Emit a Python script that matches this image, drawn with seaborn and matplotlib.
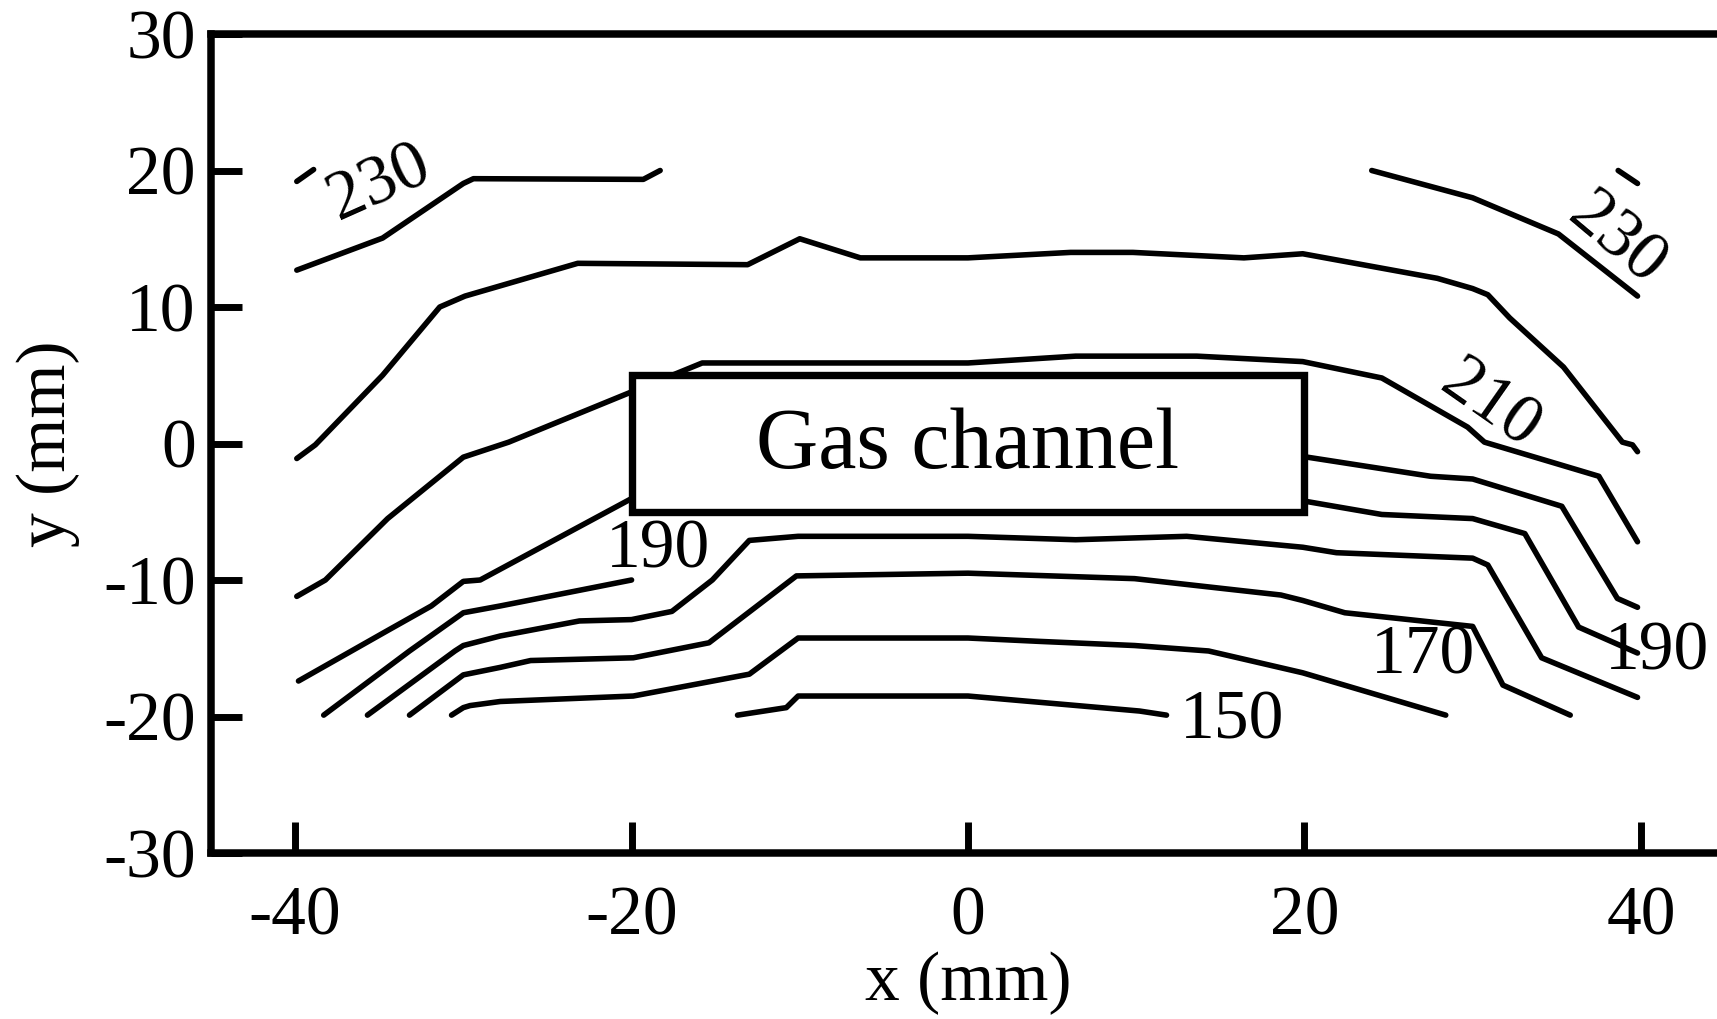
import matplotlib
matplotlib.use("Agg")
import matplotlib.pyplot as plt
from matplotlib.patches import Rectangle
import seaborn as sns

# ---------------- data ----------------
x_ticks = [-40, -20, 0, 20, 40]
y_ticks = [-30, -20, -10, 0, 10, 20, 30]
x_tick_labels = ["-40", "-20", "0", "20", "40"]
y_tick_labels = ["-30", "-20", "-10", "0", "10", "20", "30"]

# contour polylines (x in mm, y in mm)
dash_left_x = [-39.9, -38.9]
dash_left_y = [19.2, 20.07]

line_top_left_x = [-39.9, -34.8, -30.0, -29.4, -19.3, -18.3]
line_top_left_y = [12.7, 15.05, 19.05, 19.4, 19.35, 20.0]

line_top_right_x = [24.0, 30.0, 35.1, 39.8]
line_top_right_y = [20.0, 18.0, 15.35, 10.8]

dash_right_x = [38.65, 39.8]
dash_right_y = [20.0, 19.05]

line_220_x = [-39.9, -38.8, -34.8, -31.4, -29.9, -23.2, -13.1, -10.0, -6.4, 0.0,
              6.1, 9.8, 16.4, 19.9, 27.9, 30.0, 30.9, 32.2, 35.4, 38.9, 39.5, 39.8]
line_220_y = [-1.1, -0.1, 5.0, 10.0, 10.8, 13.2, 13.1, 15.0, 13.6, 13.6,
              14.0, 14.0, 13.6, 13.9, 12.1, 11.35, 10.9, 9.2, 5.6, 0.1, -0.1, -0.6]

line_210_x = [-39.9, -38.2, -34.5, -30.0, -27.3, -15.8, 0.0, 6.4, 13.6, 19.9,
              24.6, 29.7, 30.7, 37.5, 39.8]
line_210_y = [-11.2, -10.0, -5.5, -1.0, 0.1, 5.9, 5.9, 6.4, 6.4, 6.0,
              4.8, 1.2, 0.1, -2.4, -7.2]

line_200_left_x = [-39.8, -34.5, -31.9, -30.0, -29.0, -20.1, -18.0]
line_200_left_y = [-17.4, -13.7, -11.9, -10.1, -10.0, -4.1, -3.3]

line_200_right_x = [19.0, 19.9, 27.5, 30.0, 35.3, 38.6, 39.8]
line_200_right_y = [-0.9, -0.95, -2.4, -2.6, -4.6, -11.35, -12.0]

line_190_left_x = [-38.3, -33.2, -30.0, -27.8, -20.0]
line_190_left_y = [-19.9, -15.2, -12.4, -11.9, -10.0]

line_190_right_x = [19.0, 19.9, 24.6, 30.0, 33.1, 36.3, 39.8]
line_190_right_y = [-4.1, -4.2, -5.2, -5.5, -6.6, -13.45, -15.35]

line_180_x = [-35.7, -30.5, -30.0, -27.8, -23.1, -20.0, -17.6, -15.2, -13.0, -10.1,
              0.0, 6.4, 13.0, 19.9, 21.9, 30.0, 30.9, 34.1, 39.8]
line_180_y = [-19.9, -15.2, -14.8, -14.1, -13.0, -12.9, -12.3, -10.0, -7.1, -6.8,
              -6.8, -7.05, -6.8, -7.6, -8.0, -8.4, -8.9, -15.7, -18.6]

line_170_x = [-33.2, -30.0, -27.8, -26.0, -19.9, -15.4, -10.2, 0.0, 9.9, 18.6,
              19.9, 22.4, 30.0, 31.8, 35.8]
line_170_y = [-19.9, -16.95, -16.4, -15.9, -15.7, -14.6, -9.7, -9.5, -9.9, -11.1,
              -11.5, -12.4, -13.4, -17.7, -19.9]

line_160_x = [-30.7, -30.0, -29.6, -27.8, -19.9, -13.0, -10.1, 0.0, 4.3, 9.9,
              14.3, 19.9, 28.4]
line_160_y = [-19.9, -19.35, -19.2, -18.9, -18.5, -16.9, -14.25, -14.25, -14.5, -14.8,
              -15.2, -16.8, -19.9]

line_150_x = [-13.7, -10.8, -10.1, 0.0, 10.2, 11.8]
line_150_y = [-19.9, -19.35, -18.5, -18.5, -19.6, -19.9]

# contour labels
label_texts = ["230", "230", "210", "190", "170", "190", "150"]
label_x = [-35.0, 38.5, 31.0, -18.4, 27.05, 40.96, 15.7]
label_y = [19.0, 14.9, 2.8, -7.85, -15.6, -15.35, -20.4]
label_rot = [24, -40, -35, 0, 0, 0, 0]

channel_text = "Gas channel"
channel_x0, channel_y0, channel_w, channel_h = -20, -5, 40, 10

# ---------------- style ----------------
sns.set_style("ticks")
plt.rcParams['font.family'] = ['Liberation Serif', 'DejaVu Serif']
plt.rcParams['axes.unicode_minus'] = False
plt.rcParams['text.color'] = 'black'
plt.rcParams['axes.labelcolor'] = 'black'
plt.rcParams['xtick.color'] = 'black'
plt.rcParams['ytick.color'] = 'black'

fig = plt.figure(figsize=(17.17, 10.19), dpi=100)
# axes: left spine at x=211 px, bottom spine at 853 px, top spine at 34 px,
# right spine just beyond the right edge of the image (clipped as in the reference)
ax = fig.add_axes([211 / 1717, 1 - 853 / 1019, 1514 / 1717, 819 / 1019])

lines = [
    (dash_left_x, dash_left_y), (line_top_left_x, line_top_left_y),
    (line_top_right_x, line_top_right_y), (dash_right_x, dash_right_y),
    (line_220_x, line_220_y), (line_210_x, line_210_y),
    (line_200_left_x, line_200_left_y), (line_200_right_x, line_200_right_y),
    (line_190_left_x, line_190_left_y), (line_190_right_x, line_190_right_y),
    (line_180_x, line_180_y), (line_170_x, line_170_y),
    (line_160_x, line_160_y), (line_150_x, line_150_y),
]
for lx, ly in lines:
    sns.lineplot(x=lx, y=ly, sort=False, estimator=None, color='black',
                 linewidth=4.0, ax=ax, legend=False, zorder=2)

for t, tx, ty, r in zip(label_texts, label_x, label_y, label_rot):
    ax.text(tx, ty, t, fontsize=50, ha='center', va='center', rotation=r,
            rotation_mode='anchor', zorder=3, color='black')

ax.add_patch(Rectangle((channel_x0, channel_y0), channel_w, channel_h,
                       facecolor='white', edgecolor='black', linewidth=5.3, zorder=5))
ax.text(channel_x0 + channel_w / 2, channel_y0 + channel_h / 2 - 0.3, channel_text,
        fontsize=62, ha='center', va='center', zorder=6, color='black')

ax.set_xlim(-45, 45)
ax.set_ylim(-30, 30)
ax.set_xticks(x_ticks)
ax.set_xticklabels(x_tick_labels)
ax.set_yticks(y_ticks)
ax.set_yticklabels(y_tick_labels)

for s in ax.spines.values():
    s.set_visible(True)
    s.set_linewidth(5.4)
    s.set_color('black')

ax.tick_params(axis='both', direction='in', length=22, width=5, labelsize=50,
               colors='black', top=False, right=False)
ax.tick_params(axis='x', pad=24)
ax.tick_params(axis='y', pad=11)

ax.set_xlabel("x (mm)", fontsize=50, labelpad=1, color='black')
ax.set_ylabel("y (mm)", fontsize=50, labelpad=16.5, color='black')

fig.savefig("out.png", dpi=100)
